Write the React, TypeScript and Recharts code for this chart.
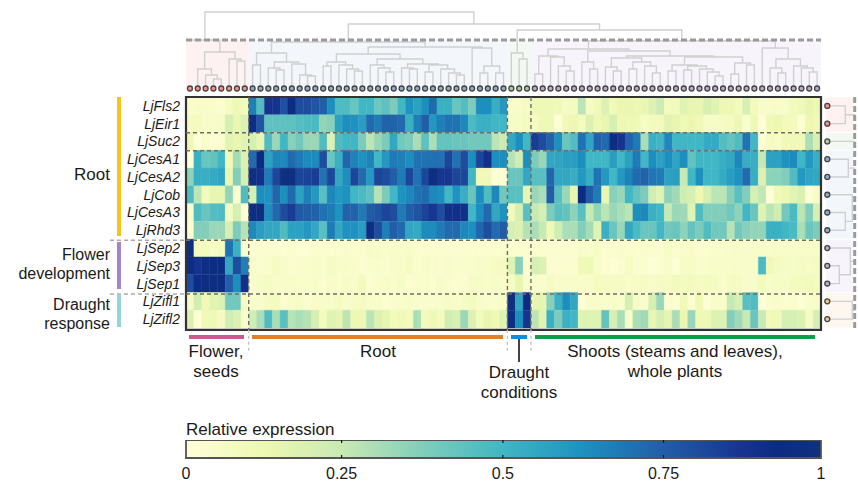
import { Area, Bar, BarChart, Cell, ComposedChart, Line, LineChart, ReferenceArea, ReferenceLine, XAxis, YAxis } from 'recharts'

const GENES = ['LjFls2', 'LjEir1', 'LjSuc2', 'LjCesA1', 'LjCesA2', 'LjCob', 'LjCesA3', 'LjRhd3', 'LjSep2', 'LjSep3', 'LjSep1', 'LjZifl1', 'LjZifl2']

// columns: 8 flower/seeds, 33 root, 3 draught, 37 shoots
const LjFls2 = [
  .04,.05,.05,.04,.03,.08,.11,.09,
  .67,.46,.88,.88,.79,.95,.8,.8,.77,.75,.63,.47,.47,.42,.5,.5,.41,.44,.38,.5,
  .62,.57,.63,.72,.52,.52,.42,.46,.38,.63,.63,.53,.6,
  .05,.05,.07,
  .11,.11,.11,.1,.07,.08,.27,.07,.1,.18,.1,.13,
  .13,.12,.13,.18,.23,.09,.09,.17,.14,.14,.2,.17,.12,.12,.09,.2,.09,.05,.05,.05,.05,.09,.1,.14,.12
]
const LjEir1 = [
  .07,.08,.05,.05,.06,.2,.13,.18,
  .95,.78,.44,.44,.44,.44,.46,.47,.48,.34,.36,.57,.63,.62,.58,.72,.68,.74,.74,.72,
  .52,.67,.75,.6,.67,.7,.7,.65,.48,.52,.52,.5,.5,
  .06,.06,.08,
  .07,.11,.11,.02,.1,.12,.08,.18,.11,.14,.2,.12,
  .11,.11,.06,.09,.09,.16,.14,.11,.13,.1,.06,.06,.07,.08,.12,.04,.11,.01,.1,.12,.09,.09,.02,.12,.1
]
const LjSuc2 = [
  .12,.02,.05,.02,.03,.16,.13,.16,
  .2,.14,.47,.33,.5,.36,.4,.33,.33,.47,.18,.47,.5,.5,.38,.27,.33,.38,.55,.4,
  .38,.3,.44,.3,.43,.43,.42,.42,.4,.4,.4,.27,.23,
  .55,.63,.5,
  .85,.8,.74,.63,.42,.46,.7,.56,.74,.72,.96,.88,
  .74,.68,.3,.52,.5,.65,.5,.5,.5,.5,.54,.54,.46,.43,.47,.7,.5,.02,.07,.06,.1,.1,.1,.3,.2
]
const LjCesA1 = [
  .01,.52,.42,.43,.5,.1,.31,.18,
  .72,.93,.57,.65,.65,.72,.68,.64,.64,.8,.42,.52,.73,.66,.62,.66,.5,.6,.68,.67,
  .63,.7,.7,.7,.7,.82,.7,.8,.63,.82,.9,.63,.63,
  .28,.22,.63,
  .38,.33,.55,.56,.58,.58,.63,.5,.5,.5,.58,.5,
  .57,.68,.5,.63,.57,.63,.56,.63,.43,.5,.5,.5,.53,.55,.65,.53,.53,.25,.57,.57,.62,.64,.5,.6,.53
]
const LjCesA2 = [
  .35,.53,.53,.54,.56,.13,.37,.2,
  .96,.9,.68,.82,.98,.98,.82,.83,.85,.7,.82,.55,.63,.82,.72,.6,.82,.8,.75,.68,
  .82,.7,.82,.96,.87,.87,.82,.82,.5,.1,.1,.02,.02,
  .42,.42,.55,
  .45,.45,.73,.55,.55,.53,.6,.53,.7,.6,.5,.6,
  .66,.72,.74,.69,.68,.57,.58,.25,.5,.63,.5,.5,.54,.58,.62,.72,.53,.18,.35,.35,.37,.47,.6,.56,.55
]
const LjCob = [
  .47,.27,.09,.14,.14,.34,.03,.47,
  .2,.63,.62,.73,.63,.72,.57,.67,.6,.45,.65,.6,.62,.5,.48,.44,.28,.38,.5,.62,
  .65,.7,.72,.65,.63,.5,.62,.53,.42,.63,.47,.65,.4,
  .45,.45,.15,
  .33,.3,.75,.45,.33,.14,.95,.76,.68,.13,.36,.33,
  .5,.43,.38,.22,.17,.35,.32,.22,.2,.12,.2,.27,.27,.36,.45,.37,.2,.26,.01,.1,.12,.16,.19,.01,.06
]
const LjCesA3 = [
  .05,.47,.42,.46,.47,.08,.2,.02,
  .97,.96,.63,.72,.8,.85,.76,.75,.74,.7,.68,.62,.74,.74,.68,.76,.78,.82,.8,.68,
  .75,.78,.83,.87,.8,.9,.9,.9,.5,.63,.72,.55,.62,
  .09,.2,.45,
  .25,.2,.38,.45,.43,.35,.45,.25,.34,.27,.33,.3,
  .27,.63,.65,.52,.5,.25,.33,.32,.17,.47,.37,.37,.37,.4,.35,.5,.42,.17,.27,.22,.4,.48,.27,.37,.2
]
const LjRhd3 = [
  .03,.37,.37,.33,.33,.2,.38,.28,
  .65,.58,.55,.55,.47,.57,.57,.6,.55,.45,.68,.55,.62,.62,.58,.96,.8,.67,.75,.72,
  .55,.54,.64,.64,.68,.72,.72,.65,.63,.73,.8,.72,.76,
  .2,.18,.28,
  .3,.25,.11,.22,.3,.3,.37,.31,.17,.52,.42,.33,
  .55,.48,.42,.42,.5,.4,.42,.35,.43,.38,.47,.4,.4,.28,.4,.36,.34,.34,.52,.52,.5,.48,.3,.42,.38
]
const LjSep2 = [
  .97,.08,.08,.06,.08,.7,.52,.04,
  .03,.03,.03,.03,.02,.03,.02,.02,.03,.03,.03,.03,.04,.03,.03,.06,.05,.04,.05,.04,
  .05,.04,.03,.03,.03,.03,.03,.03,.03,.03,.03,.03,.04,
  .03,.03,.03,
  .03,.03,.03,.03,.03,.03,.05,.04,.06,.03,.03,.04,
  .03,.03,.04,.03,.03,.06,.03,.04,.05,.03,.03,.04,.04,.05,.05,.05,.05,.05,.05,.05,.05,.05,.05,.05,.05
]
const LjSep3 = [
  .95,.88,.97,.95,.95,.55,.8,.67,
  .05,.03,.04,.07,.05,.03,.04,.04,.05,.04,.07,.05,.05,.04,.03,.04,.04,.03,.05,.05,
  .07,.03,.05,.04,.03,.05,.04,.04,.04,.05,.05,.07,.07,
  .17,.36,.03,
  .2,.18,.03,.03,.03,.03,.1,.11,.05,.03,.02,.03,
  .07,.03,.03,.02,.03,.05,.02,.06,.06,.04,.04,.05,.05,.05,.05,.05,.05,.48,.1,.07,.06,.06,.07,.06,.07
]
const LjSep1 = [
  .8,.92,.97,.96,.95,.75,.63,.9,
  .04,.06,.07,.05,.05,.05,.04,.04,.05,.03,.05,.04,.06,.05,.09,.03,.04,.05,.04,.06,
  .03,.04,.04,.03,.05,.04,.03,.03,.06,.06,.05,.06,.05,
  .06,.14,.04,
  .04,.04,.07,.05,.05,.05,.05,.05,.08,.07,.07,.07,
  .05,.06,.07,.05,.07,.07,.09,.08,.09,.07,.08,.07,.04,.07,.07,.05,.05,.09,.06,.06,.06,.08,.08,.09,.08
]
const LjZifl1 = [
  .07,.22,.1,.16,.18,.4,.4,.07,
  .04,.05,.07,.08,.03,.05,.06,.03,.05,.05,.05,.07,.05,.06,.07,.05,.05,.03,.04,.04,
  .05,.04,.04,.04,.04,.06,.05,.06,.08,.05,.04,.04,.05,
  .98,.55,.93,
  .14,.15,.36,.52,.63,.55,.02,.05,.05,.04,.05,.04,
  .2,.06,.04,.2,.33,.03,.03,.1,.03,.11,.02,.05,.05,.25,.2,.45,.47,.01,.04,.04,.03,.04,.02,.04,.05
]
const LjZifl2 = [
  .18,.02,.1,.11,.07,.22,.18,.04,
  .22,.3,.47,.3,.45,.28,.3,.28,.2,.08,.17,.15,.27,.12,.12,.27,.18,.15,.09,.1,
  .09,.3,.09,.11,.08,.22,.19,.33,.18,.09,.14,.11,.17,
  .97,.63,.88,
  .27,.16,.52,.38,.52,.5,.17,.17,.17,.43,.2,.3,
  .06,.3,.32,.14,.2,.15,.3,.13,.33,.11,.11,.18,.18,.37,.32,.25,.42,.24,.1,.1,.2,.2,.18,.07,.2
]
const HEAT_ROWS = [LjFls2, LjEir1, LjSuc2, LjCesA1, LjCesA2, LjCob, LjCesA3, LjRhd3, LjSep2, LjSep3, LjSep1, LjZifl1, LjZifl2]

const COLOR_STOPS: [number, string][] = [
  [0, '#ffffd9'], [0.125, '#edf8b1'], [0.25, '#c7e9b4'], [0.375, '#7fcdbb'], [0.5, '#41b6c4'],
  [0.625, '#1d91c0'], [0.75, '#225ea8'], [0.875, '#17348f'], [0.93, '#0c2c84'], [1, '#10307f']
]
// the printed ticks sit a little off the even quarters of the bar
const COLORBAR_TICKS = [0, 0.245, 0.499, 0.752, 1]
const COLORBAR_LABELS = ['0', '0.25', '0.5', '0.75', '1']

// dendrogram nodes: leaf index, [height, left, right], or [height, leaf] for a leaf line that stops at that height
type TreeNode = number | [number, number] | [number, TreeNode, TreeNode]

const PINK_TREE: TreeNode = [34, [17, 1, [11, 2, [7, 3, 4]]], [27, 5, [25, 6, 7]]]
const BLUE_TREE: TreeNode = [44,
  [33, [21, 8, 9], [24, [18, 10, [16, 11, 12]], [22, 13, [11, 14, [10, 15, 16]]]]],
  [39,
    [32,
      [24, [20, 17, 18], [21, 19, [17, 20, [15, 21, 22]]]],
      [27,
        [21, 23, [18, 24, [14, 25, 26]]],
        [22, [18, 27, [17, 28, 29]], [21, [14, 30, 31], [17, 32, [13, 33, [11, 34, 35]]]]]
      ]
    ],
    [38, 36, [20, [13, 37, 38], [13, 39, 40]]]
  ]
]
const GREEN_TREE: TreeNode = [33, 41, [27, 42, 43]]
const PURPLE_TREE: TreeNode = [45,
  [37,
    [30, [12, 44, 45], [29, 46, [20, 47, [15, 48, 49]]]],
    [35,
      [24, 50, [17, 51, 52]],
      [30,
        [28, [19, 53, [15, 54, 55]], [24, [17, 56, 57], [20, 58, [13, 59, 60]]]],
        [29,
          [21, [15, 61, 62], [20, [16, 63, 64], [17, 65, [14, 66, [10, 67, 68]]]]],
          [23, [12, 69, 70], [21, 71, 72]]
        ]
      ]
    ]
  ],
  [38, 73, [27, [18, 74, [13, 75, 76]], [20, 77, [18, 78, [14, 79, 80]]]]]
]
const TOP_TREE: TreeNode = [74,
  [46, [46, 0], PINK_TREE],
  [62, BLUE_TREE, [56, GREEN_TREE, PURPLE_TREE]]
]
const RIGHT_TREES: TreeNode[] = [[18, 0, 1], 2, [21, 3, 4], [25, 5, [18, 6, 7]], [23, 8, [12, 9, 10]], [25, 11, 12]]
const RIGHT_STEM = 28

const TOP_CLUSTERS = [
  { from: 0, to: 8, panel: '#fdf2f1', dot: '#f0928c' },
  { from: 8, to: 41, panel: '#f3f6fa', dot: '#8fabc8' },
  { from: 41, to: 44, panel: '#f3f9f2', dot: '#a8cc9c' },
  { from: 44, to: 81, panel: '#f7f5fb', dot: '#bba8cc' }
]
const RIGHT_CLUSTERS = [
  { from: 0, to: 2, panel: '#fdf2f1', dot: '#f0928c' },
  { from: 2, to: 3, panel: '#f3f9f2', dot: '#a8cc9c' },
  { from: 3, to: 8, panel: '#f3f6fa', dot: '#8fabc8' },
  { from: 8, to: 11, panel: '#f7f5fb', dot: '#bba8cc' },
  { from: 11, to: 13, panel: '#fef7f0', dot: '#f2c58a' }
]

const SECTION_BREAKS = [8, 41, 44]
const ROW_BREAKS = [2, 3, 8, 11]
const LABEL_BREAKS = [8, 11]

const GROUP_BARS = [
  { left: 117, top: 97, width: 4, height: 139, color: '#f5c518' },
  { left: 117, top: 242, width: 4, height: 47, color: '#a585c4' },
  { left: 117, top: 295, width: 4, height: 32, color: '#8ed6d8' },
  { left: 189, top: 335, width: 55, height: 4, color: '#c85a90' },
  { left: 252, top: 335, width: 251, height: 4, color: '#e08028' },
  { left: 511, top: 335, width: 16, height: 4, color: '#0f8fd8' },
  { left: 535, top: 335, width: 280, height: 4, color: '#0aa04a' },
  { left: 518, top: 339, width: 2, height: 23, color: '#444444' }
]

const TEXT_LABELS = [
  { text: 'Root', x: 110, y: 174, align: 'right', size: 17 },
  { text: 'Flower', x: 110, y: 254, align: 'right', size: 16 },
  { text: 'development', x: 110, y: 272.5, align: 'right', size: 16 },
  { text: 'Draught', x: 110, y: 304, align: 'right', size: 16 },
  { text: 'response', x: 110, y: 322.5, align: 'right', size: 16 },
  { text: 'Flower,', x: 216, y: 351, align: 'center', size: 17 },
  { text: 'seeds', x: 216, y: 371, align: 'center', size: 17 },
  { text: 'Root', x: 378, y: 351, align: 'center', size: 17 },
  { text: 'Draught', x: 519, y: 372, align: 'center', size: 17 },
  { text: 'conditions', x: 519, y: 392, align: 'center', size: 17 },
  { text: 'Shoots (steams and leaves),', x: 675, y: 351, align: 'center', size: 17 },
  { text: 'whole plants', x: 675, y: 371, align: 'center', size: 17 },
  { text: 'Relative expression', x: 186, y: 429, align: 'left', size: 17 }
]

const FONT = '"Liberation Sans", Arial, sans-serif'
const LINE_GREY = '#d0d0d0'
const DASH_GREY = '#9a9a9a'
const BREAK_GREY = '#6e6e66'

function colorFor(value: number): string {
  for (let index = 1; index < COLOR_STOPS.length; index += 1) {
    const [endAt, endColor] = COLOR_STOPS[index]
    if (value <= endAt) {
      const [startAt, startColor] = COLOR_STOPS[index - 1]
      const ratio = (value - startAt) / (endAt - startAt)
      const channels = [1, 3, 5].map((at) => {
        const a = parseInt(startColor.slice(at, at + 2), 16)
        const b = parseInt(endColor.slice(at, at + 2), 16)
        return Math.round(a + (b - a) * ratio)
      })
      return `rgb(${channels.join(',')})`
    }
  }
  return COLOR_STOPS[COLOR_STOPS.length - 1][1]
}

interface TreePoint {
  pos: number
  height: number | null
}

// walks a node and appends its elbows, a null height breaks the line between merges
function walkTree(node: TreeNode, out: TreePoint[]): { pos: number; height: number } {
  if (typeof node === 'number') {
    return { pos: node + 0.5, height: 0 }
  }
  if (node.length === 2) {
    return { pos: (node[1] as number) + 0.5, height: node[0] }
  }
  const left = walkTree(node[1], out)
  const right = walkTree(node[2], out)
  out.push(
    { pos: left.pos, height: left.height },
    { pos: left.pos, height: node[0] },
    { pos: right.pos, height: node[0] },
    { pos: right.pos, height: right.height },
    { pos: right.pos, height: null }
  )
  return { pos: (left.pos + right.pos) / 2, height: node[0] }
}

const topPoints: TreePoint[] = []
walkTree(TOP_TREE, topPoints)
const topLine = topPoints.map((point) => ({ x: point.pos, y: point.height }))

const rightPoints: TreePoint[] = []
RIGHT_TREES.forEach((tree) => {
  const root = walkTree(tree, rightPoints)
  rightPoints.push({ pos: root.pos, height: root.height }, { pos: root.pos, height: RIGHT_STEM }, { pos: root.pos, height: null })
})
const rightLine = rightPoints.map((point) => ({ x: point.height === null ? 0 : point.height, y: point.height === null ? null : point.pos }))

const heatTable = LjFls2.map((_, col) => {
  const datum: Record<string, number> = { col }
  GENES.forEach((gene) => {
    datum[gene] = 1
  })
  return datum
})

const colorbarTable = [{ x: 0, y: 1 }, { x: 1, y: 1 }]
const overlayAnchors = [{ x: 0, y: 0 }, { x: 81, y: 13 }]

function range(from: number, to: number): number[] {
  const out: number[] = []
  for (let index = from; index < to; index += 1) {
    out.push(index)
  }
  return out
}

function Layer({ top, children }: { top: number; children: React.ReactNode }) {
  return <div style={{ position: 'absolute', left: 0, top }}>{children}</div>
}

export default function App() {
  return (
    <div style={{ position: 'absolute', left: 0, top: 0, width: 858, height: 481, overflow: 'hidden', background: '#fff', fontFamily: FONT }}>
      <Layer top={0}>
        <LineChart width={858} height={92} margin={{ top: 0, right: 37, bottom: 0, left: 186 }}>
          <XAxis type="number" dataKey="x" domain={[0, 81]} hide />
          <YAxis type="number" domain={[-6, 86]} hide />
          {TOP_CLUSTERS.map((cluster) => (
            <ReferenceArea key={cluster.from} x1={cluster.from} x2={cluster.to} y1={-1} y2={46} fill={cluster.panel} fillOpacity={1} stroke="none" />
          ))}
          <Line data={topLine} dataKey="y" stroke={LINE_GREY} strokeWidth={1.4} dot={false} isAnimationActive={false} />
          <ReferenceLine y={46} stroke={DASH_GREY} strokeWidth={3} strokeDasharray="6 3" />
          {TOP_CLUSTERS.map((cluster) => (
            <Line
              key={cluster.from}
              data={range(cluster.from, cluster.to).map((leaf) => ({ x: leaf + 0.5, y: -2.5 }))}
              dataKey="y"
              stroke="none"
              dot={{ r: 2.5, fill: cluster.dot, stroke: '#444', strokeWidth: 1.3, fillOpacity: 1 }}
              isAnimationActive={false}
            />
          ))}
        </LineChart>
      </Layer>

      <Layer top={0}>
        <BarChart width={858} height={340} data={heatTable} barCategoryGap={0} barGap={0} margin={{ top: 97, right: 37, bottom: 12, left: 106 }}>
          <XAxis dataKey="col" hide />
          <YAxis
            type="number"
            width={80}
            domain={[0, 13]}
            reversed
            ticks={GENES.map((_, index) => index + 0.5)}
            tickFormatter={(value: number) => GENES[Math.floor(value)]}
            tickLine={false}
            axisLine={false}
            tickSize={4}
            interval={0}
            tick={{ fontSize: 14, fontStyle: 'italic', fill: '#1a1a1a', fontFamily: FONT }}
          />
          {GENES.map((gene, row) => (
            <Bar key={gene} dataKey={gene} stackId="heat" isAnimationActive={false}>
              {HEAT_ROWS[row].map((value, col) => (
                <Cell key={col} fill={colorFor(value)} stroke={colorFor(value)} strokeWidth={0.3} />
              ))}
            </Bar>
          ))}
        </BarChart>
      </Layer>

      <Layer top={0}>
        <LineChart width={858} height={352} margin={{ top: 97, right: 37, bottom: 0, left: 107.6 }}>
          <XAxis type="number" dataKey="x" domain={[-10, 81]} hide />
          <YAxis type="number" domain={[0, 14.24]} reversed hide />
          <Line data={overlayAnchors} dataKey="y" stroke="none" dot={false} isAnimationActive={false} />
          {ROW_BREAKS.map((row) => (
            <ReferenceLine key={row} segment={[{ x: 0, y: row }, { x: 81, y: row }]} stroke={BREAK_GREY} strokeWidth={1.4} strokeDasharray="4 3" />
          ))}
          {LABEL_BREAKS.map((row) => (
            <ReferenceLine key={row} segment={[{ x: -9.7, y: row }, { x: 0, y: row }]} stroke="#aaaaaa" strokeWidth={1.3} strokeDasharray="4 3" />
          ))}
          {SECTION_BREAKS.map((col) => (
            <ReferenceLine key={col} segment={[{ x: col, y: 0 }, { x: col, y: 13 }]} stroke={BREAK_GREY} strokeWidth={1.4} strokeDasharray="4 3" />
          ))}
          {SECTION_BREAKS.map((col) => (
            <ReferenceLine key={col} segment={[{ x: col, y: 13 }, { x: col, y: 14.2 }]} stroke="#c4c4c4" strokeWidth={1.4} strokeDasharray="3 3" />
          ))}
          <ReferenceArea x1={0} x2={81} y1={0} y2={13} fill="none" stroke="#333" strokeWidth={2.2} />
        </LineChart>
      </Layer>

      <Layer top={90}>
        <LineChart width={858} height={245} margin={{ top: 7, right: 1, bottom: 7, left: 823 }}>
          <XAxis type="number" dataKey="x" domain={[-4.3, 29.7]} hide />
          <YAxis type="number" domain={[0, 13]} reversed hide />
          {RIGHT_CLUSTERS.map((cluster) => (
            <ReferenceArea key={cluster.from} x1={-1.6} x2={25.7} y1={cluster.from + 0.03} y2={cluster.to - 0.03} fill={cluster.panel} fillOpacity={1} stroke="none" />
          ))}
          <Line data={rightLine} dataKey="y" stroke={LINE_GREY} strokeWidth={1.4} dot={false} isAnimationActive={false} />
          <ReferenceLine x={27.4} stroke={DASH_GREY} strokeWidth={3} strokeDasharray="6 3" />
          {RIGHT_CLUSTERS.map((cluster) => (
            <Line
              key={cluster.from}
              data={range(cluster.from, cluster.to).map((row) => ({ x: 0, y: row + 0.5 }))}
              dataKey="y"
              stroke="none"
              dot={{ r: 2.5, fill: cluster.dot, stroke: '#444', strokeWidth: 1.3, fillOpacity: 1 }}
              isAnimationActive={false}
            />
          ))}
        </LineChart>
      </Layer>

      <Layer top={440}>
        <ComposedChart width={858} height={41} data={colorbarTable} margin={{ top: 0, right: 37, bottom: 0, left: 186 }}>
          <defs>
            <linearGradient id="expression" x1="0" y1="0" x2="1" y2="0">
              {COLOR_STOPS.map(([at, color]) => (
                <stop key={at} offset={at} stopColor={color} />
              ))}
            </linearGradient>
          </defs>
          <XAxis
            type="number"
            dataKey="x"
            domain={[0, 1]}
            ticks={COLORBAR_TICKS}
            tickFormatter={(value: number) => COLORBAR_LABELS[COLORBAR_TICKS.indexOf(value)]}
            tickLine={false}
            axisLine={false}
            tickMargin={4}
            height={23}
            tick={{ fontSize: 16, fill: '#1a1a1a', fontFamily: FONT }}
            interval={0}
          />
          <YAxis type="number" domain={[0, 1]} hide />
          <Area dataKey="y" type="linear" fill="url(#expression)" fillOpacity={1} stroke="none" isAnimationActive={false} />
          {COLORBAR_TICKS.slice(1, 4).map((tick) => (
            <ReferenceLine key={tick} x={tick} stroke="#111" strokeWidth={1.2} strokeDasharray="3 12 3" />
          ))}
          <ReferenceArea x1={0} x2={1} y1={0} y2={1} fill="none" stroke="#555" strokeWidth={1.8} />
        </ComposedChart>
      </Layer>

      {GROUP_BARS.map((bar) => (
        <div key={`${bar.left}-${bar.top}`} style={{ position: 'absolute', left: bar.left, top: bar.top, width: bar.width, height: bar.height, background: bar.color }} />
      ))}

      {TEXT_LABELS.map((label) => (
        <div
          key={`${label.text}-${label.x}`}
          style={{
            position: 'absolute',
            left: label.x,
            top: label.y,
            fontSize: label.size,
            lineHeight: '15px',
            color: '#1a1a1a',
            whiteSpace: 'nowrap',
            transform: `translate(${label.align === 'right' ? '-100%' : label.align === 'center' ? '-50%' : '0'}, -50%)`
          }}
        >
          {label.text}
        </div>
      ))}
    </div>
  )
}
